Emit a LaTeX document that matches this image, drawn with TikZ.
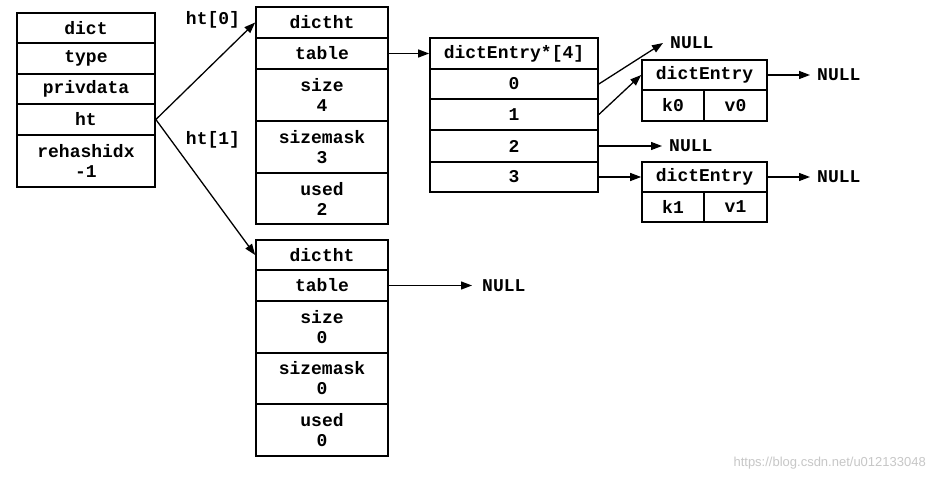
\documentclass[tikz,border=0pt]{standalone}
\usepackage{fontspec}
\usetikzlibrary{arrows.meta}
\newfontfamily\cf{Liberation Mono}
\newfontfamily\wf{Liberation Sans}
\begin{document}
\begin{tikzpicture}[x=1pt,y=-1pt,
  cell/.style={draw=black,line width=1.7pt,rectangle,inner sep=0pt,align=center,
    font=\cf\bfseries\fontsize{18}{20}\selectfont},
  lbl/.style={inner sep=0pt,font=\cf\bfseries\fontsize{18}{20}\selectfont},
  nul/.style={anchor=west,inner xsep=7pt,inner ysep=0pt,font=\cf\bfseries\fontsize{18}{20}\selectfont},
  ptr/.style={line width=1.3pt,-{Triangle[length=11pt,width=8pt]}}]
\useasboundingbox (0,0) rectangle (936,481);
\fill[white] (0,0) rectangle (936,481);
% dict
\node[cell,minimum width=138pt,minimum height=30pt] (dict) at (86,28) {dict};
\node[cell,minimum width=138pt,minimum height=31pt] (type) at (86,58.5) {type};
\node[cell,minimum width=138pt,minimum height=30pt] (priv) at (86,89) {privdata};
\node[cell,minimum width=138pt,minimum height=31pt] (ht) at (86,119.5) {ht};
\node[cell,minimum width=138pt,minimum height=52pt] (reh) at (86,161) {rehashidx\\-1};
% dictht 0
\node[cell,minimum width=132pt,minimum height=31pt] (ah) at (322,22.5) {dictht};
\node[cell,minimum width=132pt,minimum height=31pt] (at) at (322,53.5) {table};
\node[cell,minimum width=132pt,minimum height=52pt] (as) at (322,95) {size\\4};
\node[cell,minimum width=132pt,minimum height=52pt] (am) at (322,147) {sizemask\\3};
\node[cell,minimum width=132pt,minimum height=51pt] (au) at (322,198.5) {used\\2};
% dictht 1
\node[cell,minimum width=132pt,minimum height=30pt] (bh) at (322,255) {dictht};
\node[cell,minimum width=132pt,minimum height=31pt] (bt) at (322,285.5) {table};
\node[cell,minimum width=132pt,minimum height=52pt] (bs) at (322,327) {size\\0};
\node[cell,minimum width=132pt,minimum height=51pt] (bm) at (322,378.5) {sizemask\\0};
\node[cell,minimum width=132pt,minimum height=52pt] (bu) at (322,430) {used\\0};
% array
\node[cell,minimum width=168pt,minimum height=31pt] (arh) at (514,53.5) {dictEntry*[4]};
\node[cell,minimum width=168pt,minimum height=30pt] (r0) at (514,84) {0};
\node[cell,minimum width=168pt,minimum height=31pt] (r1) at (514,114.5) {1};
\node[cell,minimum width=168pt,minimum height=32pt] (r2) at (514,146) {2};
\node[cell,minimum width=168pt,minimum height=30pt] (r3) at (514,177) {3};
% dictEntry A
\node[cell,minimum width=125pt,minimum height=30pt] (eah) at (704.5,75) {dictEntry};
\node[cell,minimum width=62pt,minimum height=31pt] (eak) at (673,105.5) {k0};
\node[cell,minimum width=63pt,minimum height=31pt] (eav) at (735.5,105.5) {v0};
% dictEntry B
\node[cell,minimum width=125pt,minimum height=30pt] (ebh) at (704.5,177) {dictEntry};
\node[cell,minimum width=62pt,minimum height=30pt] (ebk) at (673,207) {k1};
\node[cell,minimum width=63pt,minimum height=30pt] (ebv) at (735.5,207) {v1};
% labels
\node[lbl] (l0) at (213,20) {ht[0]};
\node[lbl] (l1) at (213,140) {ht[1]};
% NULLs
\node[nul] (n0) at (663,43) {NULL};
\node[nul] (n2) at (662,146) {NULL};
\node[nul] (na) at (810,75) {NULL};
\node[nul] (nb) at (810,177) {NULL};
\node[nul,inner xsep=10pt] (nt) at (472,285.5) {NULL};
% arrows
\draw[ptr] (ht.east) -- (ah.west);
\draw[ptr] (ht.east) -- (bh.west);
\draw[ptr] (at.east) -- (arh.west);
\draw[ptr] (r0.east) -- (n0.west);
\draw[ptr] (r1.east) -- (eah.west);
\draw[ptr] (r2.east) -- (n2.west);
\draw[ptr] (r3.east) -- (ebh.west);
\draw[ptr] (eah.east) -- (na.west);
\draw[ptr] (ebh.east) -- (nb.west);
\draw[ptr] (bt.east) -- (nt.west);
% watermark
\node[inner sep=0pt,anchor=east,text=black!22,font=\wf\fontsize{13}{15}\selectfont] (wm) at (926,463) {https://blog.csdn.net/u012133048};
\end{tikzpicture}
\end{document}
